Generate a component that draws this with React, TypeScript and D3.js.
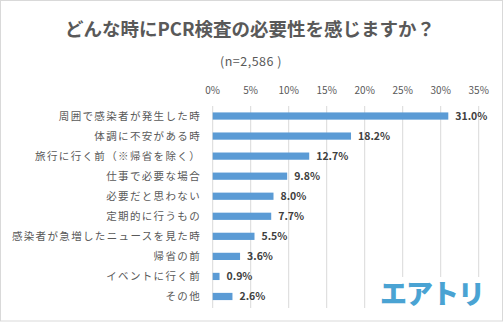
import React from "react";
import * as d3 from "d3";

const categories = [
  "周囲で感染者が発生した時",
  "体調に不安がある時",
  "旅行に行く前（※帰省を除く）",
  "仕事で必要な場合",
  "必要だと思わない",
  "定期的に行うもの",
  "感染者が急増したニュースを見た時",
  "帰省の前",
  "イベントに行く前",
  "その他",
];
const values = [31.0, 18.2, 12.7, 9.8, 8.0, 7.7, 5.5, 3.6, 0.9, 2.6];
const ticks = [0, 5, 10, 15, 20, 25, 30, 35];
const title = "どんな時にPCR検査の必要性を感じますか？";
const subtitle = "(n=2,586 )";
const logo = "エアトリ";

const W = 504;
const H = 322;
const font = "'Noto Sans CJK JP', 'Noto Sans', sans-serif";

export default function App() {
  const x = d3.scaleLinear().domain([0, 35]).range([212.7, 478.7]);
  const y = d3.scaleBand<string>().domain(categories).range([106, 306.5]).paddingInner(0.64).paddingOuter(0.32);
  const bh = y.bandwidth();
  return (
    <svg width={W} height={H} style={{ position: "absolute", left: 0, top: 0, background: "#fff" }}>
      <rect x={0.5} y={0.5} width={W - 2} height={H - 1.5} fill="#fff" stroke="#d9d9d9" />
      <text x={250} y={36} textAnchor="middle" fontFamily={font} fontWeight="bold" fontSize={18.5} fill="#595959">
        {title}
      </text>
      <text x={251} y={66} textAnchor="middle" fontFamily={font} fontSize={12.5} letterSpacing={0.5} fill="#595959">
        {subtitle}
      </text>
      {ticks.map((t) => (
        <g key={t}>
          <line x1={x(t)} x2={x(t)} y1={106} y2={308} stroke="#d9d9d9" strokeWidth={1} />
          <text x={x(t)} y={94} textAnchor="middle" fontFamily={font} fontSize={10} fill="#595959">
            {t}%
          </text>
        </g>
      ))}
      {categories.map((c, i) => {
        const yc = (y(c) as number) + bh / 2;
        return (
          <g key={c}>
            <text x={201} y={yc} dy="0.35em" textAnchor="end" fontFamily={font} fontSize={10.5} letterSpacing={1.35} fill="#595959">
              {c}
            </text>
            <rect x={x(0)} y={y(c)} width={x(values[i]) - x(0)} height={bh} fill="#5b9bd5" />
            <text x={x(values[i]) + 7} y={yc} dy="0.35em" fontFamily={font} fontSize={10.5} fontWeight="bold" fill="#404040">
              {values[i].toFixed(1)}%
            </text>
          </g>
        );
      })}
      <rect x={380} y={277} width={104} height={31} fill="#fff" />
      <text x={432} y={304} textAnchor="middle" fontFamily={font} fontWeight="900" fontSize={27} letterSpacing={-1} fill="#4aa3d3">
        {logo}
      </text>
    </svg>
  );
}
